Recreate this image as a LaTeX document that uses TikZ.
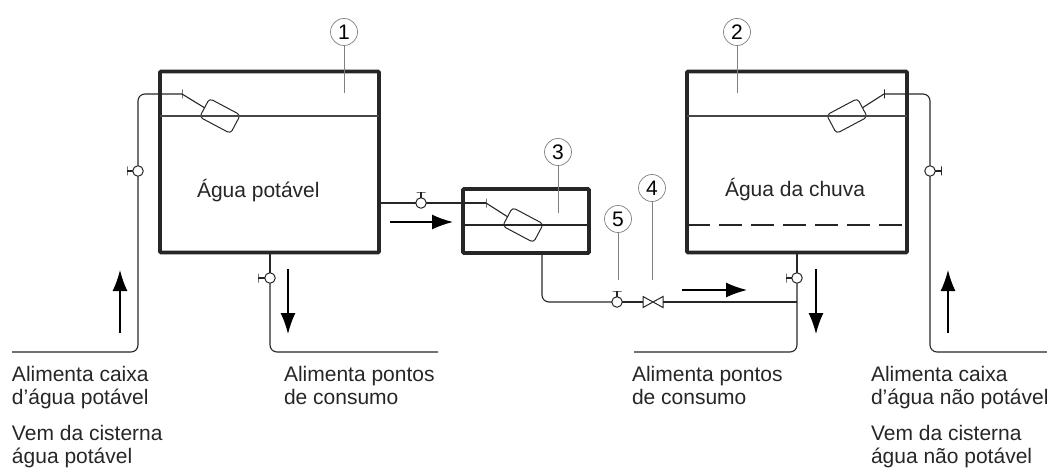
\documentclass[tikz,border=0pt]{standalone}
\usepackage{fontspec}
\setmainfont{Liberation Sans}
\usetikzlibrary{arrows.meta}
\definecolor{ink}{gray}{0.15}
\begin{document}
\begin{tikzpicture}
    [x=1pt,y=-1pt,
     tank/.style={rectangle,draw=ink,line width=3.6pt,rounded corners=1pt,inner sep=0pt,outer sep=0pt},
     float/.style={rectangle,draw=ink,line width=1pt,rounded corners=3.5pt,minimum width=35pt,minimum height=21pt,inner sep=0pt,outer sep=0pt},
     valve/.style={circle,draw=ink,line width=1pt,minimum size=10.5pt,inner sep=0pt,outer sep=0pt},
     vtick/.style={draw=ink,line width=1pt,minimum width=0pt,minimum height=9pt,inner sep=0pt,outer sep=0pt},
     htick/.style={draw=ink,line width=1pt,minimum width=9pt,minimum height=0pt,inner sep=0pt,outer sep=0pt},
     bowtie/.style={minimum width=20pt,minimum height=11pt,inner sep=0pt,outer sep=0pt},
     callout/.style={circle,draw=gray,line width=0.7pt,minimum size=27pt,inner sep=0pt,outer sep=0pt,text=black,font=\fontsize{21}{21}\selectfont},
     pipe/.style={draw=ink,line width=1.1pt,rounded corners=7pt},
     level/.style={draw=ink!85,line width=1.8pt},
     leader/.style={draw=gray,line width=0.9pt},
     flow/.style={draw=black,line width=1.3pt,-{Latex[length=21pt,width=15pt]}},
     label/.style={inner sep=0pt,outer sep=0pt,align=left,text=ink,font=\fontsize{21}{23}\selectfont}]
    \useasboundingbox (0,0) rectangle (1047,468);

    % tanks
    \node[tank,minimum width=219pt,minimum height=181pt] (tankA) at (269.5,162) {};
    \node[tank,minimum width=220pt,minimum height=181pt] (tankB) at (797,162) {};
    \node[tank,minimum width=126pt,minimum height=64pt] (tankC) at (526,221) {};

    % floats
    \node[float,rotate=-28] (floatA) at (220,116) {};
    \node[float,rotate=28] (floatB) at (847,116) {};
    \node[float,rotate=-28] (floatC) at (523,225) {};
    \node[vtick] (armA) at (182,94) {};
    \node[vtick] (armB) at (884,94) {};
    \node[vtick] (armC) at (486,203) {};
    \draw[pipe] (armA) -- (floatA.west);
    \draw[pipe] (armB) -- (floatB.east);
    \draw[pipe] (armC) -- (floatC.west);

    % water levels
    \draw[level] (tankA.west |- floatA) -- (tankA.east |- floatA);
    \draw[level] (tankB.west |- floatB) -- (tankB.east |- floatB);
    \draw[draw=ink,line width=1.1pt] (tankC.west |- floatC) -- (tankC.east |- floatC);
    \coordinate (lowB) at (797,225);
    \draw[draw=ink,line width=1.1pt,dash pattern=on 23pt off 9pt] (tankB.west |- lowB) -- (tankB.east |- lowB);

    % valves
    \node[valve] (valveA) at (138,171) {};
    \node[valve] (valveB) at (270,278) {};
    \node[valve] (valveC) at (421,203) {};
    \node[valve] (valveD) at (617,302) {};
    \node[valve] (valveE) at (797,278) {};
    \node[valve] (valveF) at (930,171) {};
    \node[bowtie] (gate) at (653,302) {};
    \draw[draw=ink,line width=1pt] (gate.north west) -- (gate.south east) -- (gate.north east) -- (gate.south west) -- cycle;

    % valve stems
    \node[vtick] (stemA) at (127,171) {};
    \node[vtick] (stemB) at (258,278) {};
    \node[htick] (stemC) at (421,192) {};
    \node[htick] (stemD) at (617,291) {};
    \node[vtick] (stemE) at (786,278) {};
    \node[vtick] (stemF) at (941,171) {};
    \draw[pipe] (valveA) -- (stemA);
    \draw[pipe] (valveB) -- (stemB);
    \draw[pipe] (valveC) -- (stemC);
    \draw[pipe] (valveD) -- (stemD);
    \draw[pipe] (valveE) -- (stemE);
    \draw[pipe] (valveF) -- (stemF);

    % pipes
    \coordinate (endA) at (12,352);
    \coordinate (endB) at (438,352);
    \coordinate (endE) at (634,352);
    \coordinate (endF) at (1047,352);
    \coordinate (outC) at (542,253);
    \coordinate (joint) at (797,302);
    \draw[pipe] (armA) -| (valveA);
    \draw[pipe] (valveA) |- (endA);
    \draw[pipe] (tankA.south -| valveB) -- (valveB);
    \draw[pipe] (valveB) |- (endB);
    \draw[pipe] (tankA.east |- valveC) -- (valveC);
    \draw[pipe] (valveC) -- (armC);
    \draw[pipe] (outC) |- (valveD);
    \draw[pipe] (valveD) -- (gate.west);
    \draw[pipe] (gate.east) -- (joint);
    \draw[pipe] (tankB.south -| valveE) -- (valveE);
    \draw[pipe] (valveE) |- (endE);
    \draw[pipe] (armB) -| (valveF);
    \draw[pipe] (valveF) |- (endF);

    % flow arrows
    \coordinate (upA) at (120,333);
    \coordinate (topA) at (120,270);
    \coordinate (upB) at (948,333);
    \coordinate (topB) at (948,270);
    \coordinate (downA) at (288,269);
    \coordinate (tipA) at (288,334);
    \coordinate (downB) at (816,269);
    \coordinate (tipB) at (816,334);
    \coordinate (sideA) at (390,222);
    \coordinate (sideB) at (453,222);
    \coordinate (sideC) at (682,290);
    \coordinate (sideD) at (747,290);
    \draw[flow] (upA) -- (topA);
    \draw[flow] (upB) -- (topB);
    \draw[flow] (downA) -- (tipA);
    \draw[flow] (downB) -- (tipB);
    \draw[flow] (sideA) -- (sideB);
    \draw[flow] (sideC) -- (sideD);

    % callouts
    \node[callout] (one) at (344,32) {1};
    \node[callout] (two) at (737,32) {2};
    \node[callout] (three) at (558,152) {3};
    \node[callout] (four) at (652,188) {4};
    \node[callout] (five) at (618,219) {5};
    \coordinate (tipOne) at (344,93);
    \coordinate (tipTwo) at (737,93);
    \coordinate (tipThree) at (558,213);
    \coordinate (tipFour) at (652,280);
    \coordinate (tipFive) at (618,280);
    \draw[leader] (one) -- (tipOne);
    \draw[leader] (two) -- (tipTwo);
    \draw[leader] (three) -- (tipThree);
    \draw[leader] (four) -- (tipFour);
    \draw[leader] (five) -- (tipFive);

    % labels
    \node[label,anchor=west] (waterA) at (197,191) {Água potável};
    \node[label,anchor=west] (waterB) at (725,190) {Água da chuva};
    \node[label,anchor=north west] (feedA) at (12,366) {Alimenta caixa\\d'água potável};
    \node[label,anchor=north west] (fromA) at (12,425) {Vem da cisterna\\água potável};
    \node[label,anchor=north west] (useA) at (284,366) {Alimenta pontos\\de consumo};
    \node[label,anchor=north west] (useB) at (632,366) {Alimenta pontos\\de consumo};
    \node[label,anchor=north west] (feedB) at (871,366) {Alimenta caixa\\d'água não potável};
    \node[label,anchor=north west] (fromB) at (871,425) {Vem da cisterna\\água não potável};
  \end{tikzpicture}
\end{document}
